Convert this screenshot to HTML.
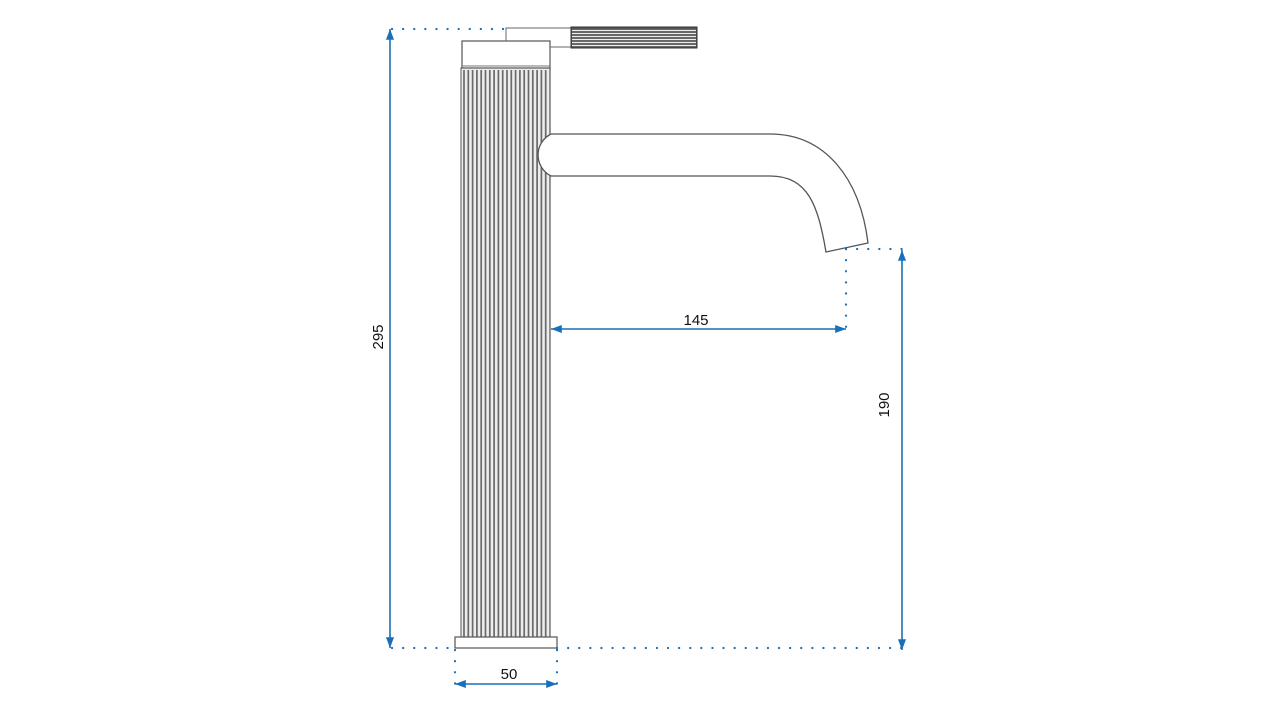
<!DOCTYPE html>
<html><head><meta charset="utf-8"><style>html,body{margin:0;padding:0;background:#fff}svg{display:block}text{font-family:"Liberation Sans",sans-serif;font-size:15px;fill:#111}</style></head>
<body>
<svg width="1280" height="720" viewBox="0 0 1280 720" xmlns="http://www.w3.org/2000/svg">
<defs>
<marker id="a" viewBox="0 0 12 10" refX="12" refY="5" markerWidth="13" markerHeight="9" orient="auto-start-reverse" markerUnits="userSpaceOnUse"><path d="M0,0.5 L12,5 L0,9.5 Z" fill="#1a6fb8"/></marker>
</defs>
<rect x="461" y="68" width="89" height="569" fill="#ededed" stroke="#555" stroke-width="1"/>
<g stroke="#6a6a6a" stroke-width="1.7">
<line x1="464" y1="70" x2="464" y2="637"/><line x1="468.3" y1="70" x2="468.3" y2="637"/><line x1="472.6" y1="70" x2="472.6" y2="637"/><line x1="476.9" y1="70" x2="476.9" y2="637"/><line x1="481.2" y1="70" x2="481.2" y2="637"/><line x1="485.5" y1="70" x2="485.5" y2="637"/><line x1="489.8" y1="70" x2="489.8" y2="637"/><line x1="494.1" y1="70" x2="494.1" y2="637"/><line x1="498.4" y1="70" x2="498.4" y2="637"/><line x1="502.7" y1="70" x2="502.7" y2="637"/><line x1="507" y1="70" x2="507" y2="637"/><line x1="511.3" y1="70" x2="511.3" y2="637"/><line x1="515.6" y1="70" x2="515.6" y2="637"/><line x1="519.9" y1="70" x2="519.9" y2="637"/><line x1="524.2" y1="70" x2="524.2" y2="637"/><line x1="528.5" y1="70" x2="528.5" y2="637"/><line x1="532.8" y1="70" x2="532.8" y2="637"/><line x1="537.1" y1="70" x2="537.1" y2="637"/><line x1="541.4" y1="70" x2="541.4" y2="637"/><line x1="545.7" y1="70" x2="545.7" y2="637"/>
</g>
<line x1="550" y1="68" x2="550" y2="637" stroke="#555" stroke-width="1.2"/>
<rect x="462" y="41" width="88" height="27" fill="#fff" stroke="#555" stroke-width="1.2"/>
<line x1="462" y1="66" x2="550" y2="66" stroke="#777" stroke-width="1"/>
<path d="M506,41 V28 H571 M550,47 H571" fill="none" stroke="#666" stroke-width="1"/>
<rect x="571" y="27" width="126" height="21" fill="#555" stroke="#333" stroke-width="1"/>
<g stroke="#eee" stroke-width="1.3"><line x1="572" y1="30.5" x2="696" y2="30.5"/><line x1="572" y1="33.5" x2="696" y2="33.5"/><line x1="572" y1="36.5" x2="696" y2="36.5"/><line x1="572" y1="39.5" x2="696" y2="39.5"/><line x1="572" y1="42.5" x2="696" y2="42.5"/><line x1="572" y1="45.5" x2="696" y2="45.5"/></g>
<path d="M551,134 A23.5,23.5 0 0 0 551,176 Z" fill="#fff" stroke="none"/>
<path d="M551,134 H770 C825,134 860,178 868,243 L826,252 C818,205 808,176 770,176 H551 A23.5,23.5 0 0 1 551,134" fill="none" stroke="#555" stroke-width="1.3"/>
<rect x="455" y="637" width="102" height="11" fill="#fff" stroke="#555" stroke-width="1.2"/>
<g stroke="#1a6fb8" stroke-width="2.2" stroke-dasharray="0.1 11" stroke-linecap="round" fill="none">
<line x1="392" y1="29" x2="506" y2="29"/>
<line x1="392" y1="648" x2="455" y2="648"/>
<line x1="557" y1="648" x2="902" y2="648"/>
<line x1="846" y1="249" x2="902" y2="249"/>
<line x1="846" y1="249" x2="846" y2="329"/>
<line x1="455" y1="650" x2="455" y2="686"/>
<line x1="557" y1="650" x2="557" y2="686"/>
</g>
<g stroke="#1a6fb8" stroke-width="1.6" fill="none" marker-start="url(#a)" marker-end="url(#a)">
<line x1="390" y1="29" x2="390" y2="648"/>
<line x1="902" y1="250" x2="902" y2="650"/>
<line x1="551" y1="329" x2="846" y2="329"/>
<line x1="455" y1="684" x2="557" y2="684"/>
</g>
<text x="696" y="325" text-anchor="middle">145</text>
<text x="509" y="679" text-anchor="middle">50</text>
<text transform="translate(383,337) rotate(-90)" text-anchor="middle">295</text>
<text transform="translate(889,405) rotate(-90)" text-anchor="middle">190</text>
</svg>
</body></html>
